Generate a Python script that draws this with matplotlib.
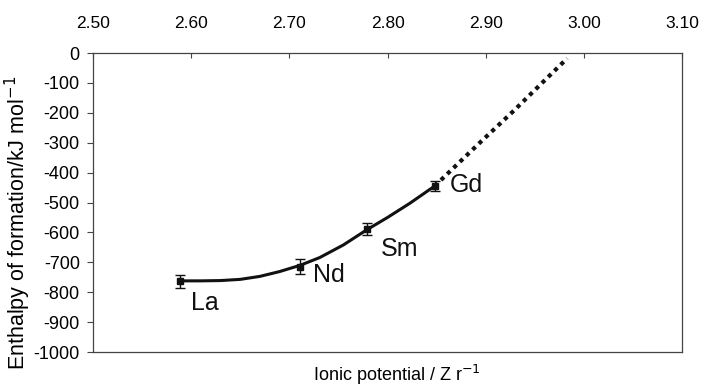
import numpy as np
import matplotlib.pyplot as plt

plt.rcParams["font.family"] = ["Liberation Sans", "DejaVu Sans"]
plt.rcParams["axes.unicode_minus"] = False

# 数据点
elements = ["La", "Nd", "Sm", "Gd"]
ionic_pot = [2.589, 2.711, 2.779, 2.848]
enthalpy = [-763, -715, -589, -445]
err = [22, 25, 20, 18]

# 拟合曲线（实线），沿图中曲线读取
fit_x = [2.589, 2.610, 2.630, 2.650, 2.670, 2.690, 2.711, 2.731,
         2.755, 2.779, 2.800, 2.823, 2.848]
fit_y = [-762, -762, -761, -757, -747, -731, -710, -684,
         -642, -591, -550, -502, -445]

# 外推（点线）
ext_x = [2.848, 2.894, 2.928, 2.959, 2.983]
ext_y = [-445, -300, -195, -95, -18]

# 元素标签相对数据点的偏移（points）
label_off = [(8, -21), (9.5, -11), (10, -19.5), (11, -4)]

fig = plt.figure(figsize=(7.02, 3.90), dpi=100)
ax = fig.add_axes([0.1325, 0.0974, 0.839, 0.7666])

ax.plot(fit_x, fit_y, color="#111111", lw=2.2, solid_capstyle="butt",
        solid_joinstyle="round", zorder=3)
ax.plot(ext_x, ext_y, color="#111111", lw=3.0, linestyle=(0, (1, 1.1)),
        dash_capstyle="butt", zorder=3)
ax.errorbar(ionic_pot, enthalpy, yerr=err, fmt="s", color="#111111",
            ms=5, capsize=3.6, elinewidth=1.0, capthick=1.0, zorder=4)

for name, x, y, off in zip(elements, ionic_pot, enthalpy, label_off):
    ax.annotate(name, (x, y), xytext=off, textcoords="offset points",
                fontsize=18, ha="left", va="baseline", color="#111111")

ax.set_xlim(2.50, 3.10)
ax.set_ylim(-1000, 0)
xt = np.arange(2.50, 3.101, 0.10)
ax.set_xticks(xt)
ax.set_xticklabels([f"{v:.2f}" for v in xt])
ax.set_yticks(np.arange(-1000, 1, 100))

ax.xaxis.tick_top()
ax.tick_params(axis="x", direction="in", length=3.5, width=0.8, labelsize=12.5,
               pad=16, top=True, bottom=False, color="#444444")
ax.tick_params(axis="y", direction="out", length=4, width=0.8, labelsize=13,
               pad=5.5, right=False, color="#444444")
for s in ax.spines.values():
    s.set_linewidth(0.9)
    s.set_color("#444444")

ax.set_ylabel("Enthalpy of formation/kJ mol$^{-1}$", fontsize=15.5)
ax.yaxis.set_label_coords(-0.102, 0.431)
fig.text(0.565, 0.022, "Ionic potential / Z r$^{-1}$", fontsize=13,
         ha="center", va="baseline")

fig.savefig("out.png", dpi=100)
